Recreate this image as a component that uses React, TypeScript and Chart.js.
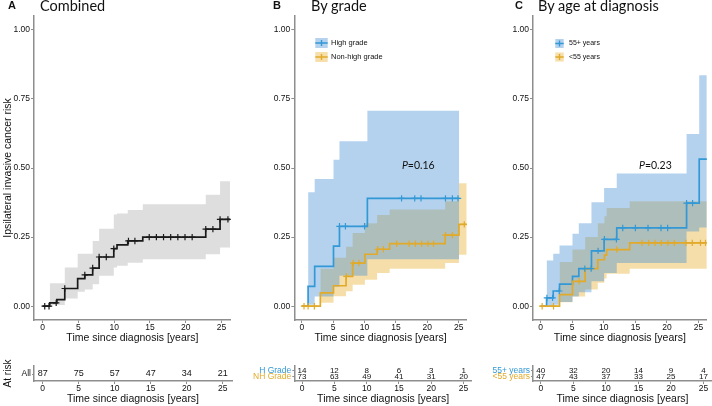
import React, { useEffect, useRef } from 'react';
import { Chart, registerables } from 'chart.js';
Chart.register(...registerables);

// ---------- shared axis values ----------
const X_MIN = -1.2;
const X_MAX = 26.3;
const xTickValues = [0, 5, 10, 15, 20, 25];
const yTickValues = [0, 0.25, 0.5, 0.75, 1];
const riskTimes = [0, 5, 10, 15, 20, 25];

// ---------- Panel A: combined ----------
const allTimes = [0, 1.0, 2.0, 3.1, 4.9, 5.9, 7.0, 7.9, 9.95, 10.4, 11.9, 14.0, 22.8, 24.8];
const allRisk = [0, 0.012, 0.024, 0.064, 0.1, 0.113, 0.138, 0.178, 0.208, 0.222, 0.236, 0.25, 0.279, 0.314];
const allEnd = 26.2;
const allCensor = [0.3, 0.9, 1.9, 3.1, 5.9, 7.0, 7.9, 8.9, 9.95, 12.0, 12.9, 14.9, 15.9, 16.9, 17.9, 18.9, 19.9, 20.9, 22.8, 23.8, 24.8, 25.9];
const allBandTimes = [1.0, 3.1, 4.9, 5.9, 7.0, 7.9, 9.95, 10.4, 11.9, 14.0, 22.8, 24.8];
const allUpper = [0.083, 0.14, 0.19, 0.19, 0.236, 0.28, 0.332, 0.335, 0.348, 0.369, 0.403, 0.452];
const allLower = [0.004, 0.028, 0.052, 0.06, 0.079, 0.11, 0.14, 0.146, 0.157, 0.17, 0.188, 0.212];
const allAtRisk = [87, 75, 57, 47, 34, 21];

// ---------- Panel B: by grade ----------
const hgTimes = [0, 1.0, 2.05, 5.05, 6.0, 10.45];
const hgRisk = [0, 0.072, 0.144, 0.217, 0.289, 0.39];
const hgEnd = 25.1;
const hgCensor = [6.0, 6.95, 10.0, 15.9, 18.0, 19.0, 22.9, 24.0, 24.9];
const hgBandTimes = [1.0, 2.05, 5.05, 6.0, 10.45];
const hgUpper = [0.412, 0.46, 0.53, 0.597, 0.707];
const hgLower = [0.005, 0.035, 0.07, 0.11, 0.17];
const hgAtRisk = [14, 12, 8, 6, 3, 1];

const nhTimes = [0, 2.95, 5.05, 7.05, 8.1, 10.05, 12.0, 14.0, 22.85, 25.05];
const nhRisk = [0, 0.048, 0.074, 0.108, 0.156, 0.188, 0.206, 0.226, 0.257, 0.296];
const nhEnd = 26.3;
const nhCensor = [0.35, 1.0, 2.0, 7.1, 8.2, 9.1, 12.1, 13.0, 15.1, 17.1, 18.1, 19.1, 20.1, 21.0, 22.9, 24.0, 25.9];
const nhBandTimes = [2.95, 5.05, 7.05, 8.1, 10.05, 12.0, 14.0, 22.85, 25.05];
const nhUpper = [0.135, 0.175, 0.215, 0.265, 0.3, 0.33, 0.35, 0.38, 0.445];
const nhLower = [0.012, 0.036, 0.054, 0.078, 0.096, 0.12, 0.135, 0.156, 0.186];
const nhAtRisk = [73, 63, 49, 41, 31, 20];

// ---------- Panel C: by age ----------
const oldTimes = [0, 0.95, 2.0, 3.0, 5.05, 6.05, 8.05, 10.05, 12.05, 23.1, 25.1];
const oldRisk = [0, 0.03, 0.055, 0.08, 0.108, 0.136, 0.2, 0.242, 0.283, 0.373, 0.532];
const oldEnd = 26.4;
const oldCensor = [1.0, 1.9, 2.95, 7.0, 8.0, 9.1, 10.1, 12.0, 13.0, 15.0, 17.0, 19.05, 20.1, 23.1, 24.05];
const oldBandTimes = [0.95, 2.0, 3.0, 5.05, 6.05, 8.05, 10.05, 12.05, 23.1, 25.1];
const oldUpper = [0.165, 0.19, 0.22, 0.262, 0.3, 0.376, 0.428, 0.48, 0.623, 0.836];
const oldLower = [0.0, 0.005, 0.015, 0.035, 0.05, 0.09, 0.12, 0.156, 0.27, 0.285];
const oldAtRisk = [40, 32, 20, 14, 9, 4];

const youngTimes = [0, 3.0, 5.05, 7.05, 9.05, 10.1, 10.45, 14.1];
const youngRisk = [0, 0.042, 0.09, 0.136, 0.168, 0.185, 0.205, 0.229];
const youngEnd = 26.4;
const youngCensor = [0.25, 2.05, 6.1, 12.05, 16.05, 17.1, 18.1, 19.1, 20.15, 21.15, 23.0, 24.0, 25.3, 26.1];
const youngBandTimes = [3.0, 5.05, 7.05, 9.05, 10.1, 10.45, 14.1];
const youngUpper = [0.16, 0.205, 0.25, 0.3, 0.325, 0.355, 0.38];
const youngLower = [0.014, 0.035, 0.06, 0.085, 0.1, 0.117, 0.135];
const youngAtRisk = [47, 43, 37, 33, 25, 17];

// ---------- styles ----------
const SANS = '"Liberation Sans", Arial, Helvetica, sans-serif';
const TITLE_FONT = 'Lato, "Open Sans", sans-serif';
const AXIS_GRAY = '#8e8e8e';
const TEXT = '#111111';
const BLACK = '#1a1a1a';
const GRAY_BAND = '#dedede';
const BLUE = '#3298d6';
const BLUE_BAND = 'rgba(67,142,212,0.4)';
const BLUE_SOLID = '#b4d2ee';
const YELLOW = '#e2aa2a';
const YELLOW_BAND = 'rgba(232,172,42,0.4)';
const YELLOW_SOLID = '#f6dfaa';

type Pt = { x: number; y: number };
type Series = {
  color: string; band: string;
  times: number[]; values: number[]; end: number; censor: number[];
  bandTimes: number[]; upper: number[]; lower: number[];
};

function stepPoints(times: number[], values: number[], end: number): Pt[] {
  const pts = times.map((t, i) => ({ x: t, y: values[i] }));
  pts.push({ x: end, y: values[values.length - 1] });
  return pts;
}
function valueAt(times: number[], values: number[], t: number) {
  let v = values[0];
  for (let i = 0; i < times.length; i++) if (times[i] <= t + 1e-9) v = values[i];
  return v;
}

const seriesA: Series[] = [
  { color: BLACK, band: GRAY_BAND, times: allTimes, values: allRisk, end: allEnd, censor: allCensor,
    bandTimes: allBandTimes, upper: allUpper, lower: allLower },
];
const seriesB: Series[] = [
  { color: BLUE, band: BLUE_BAND, times: hgTimes, values: hgRisk, end: hgEnd, censor: hgCensor,
    bandTimes: hgBandTimes, upper: hgUpper, lower: hgLower },
  { color: YELLOW, band: YELLOW_BAND, times: nhTimes, values: nhRisk, end: nhEnd, censor: nhCensor,
    bandTimes: nhBandTimes, upper: nhUpper, lower: nhLower },
];
const seriesC: Series[] = [
  { color: BLUE, band: BLUE_BAND, times: oldTimes, values: oldRisk, end: oldEnd, censor: oldCensor,
    bandTimes: oldBandTimes, upper: oldUpper, lower: oldLower },
  { color: YELLOW, band: YELLOW_BAND, times: youngTimes, values: youngRisk, end: youngEnd, censor: youngCensor,
    bandTimes: youngBandTimes, upper: youngUpper, lower: youngLower },
];

type LegendSpec = { labels: string[]; colors: string[]; fills: string[]; dx: number; dy: number; gap: number; w: number; h: number; tx: number; font: number };
type PSpec = { text: string; x: number; y: number };

type MainSpec = {
  series: Series[]; axisWidth: number; padRight: number; yTitle?: string;
  legend?: LegendSpec; pval?: PSpec;
};

function xScale(height: number) {
  return {
    type: 'linear', min: X_MIN, max: X_MAX,
    afterBuildTicks: (s: any) => { s.ticks = xTickValues.map((v) => ({ value: v })); },
    afterFit: (s: any) => { s.height = height; },
    grid: { drawOnChartArea: false, drawTicks: true, tickLength: 3, color: AXIS_GRAY, lineWidth: 1 },
    border: { display: true, color: AXIS_GRAY, width: 1.5 },
    ticks: { font: { family: SANS, size: 8.5 }, color: TEXT, padding: 0, maxRotation: 0, autoSkip: false, callback: (v: any) => String(v) },
    title: { display: true, text: 'Time since diagnosis [years]', color: TEXT, font: { family: SANS, size: 10.5, lineHeight: 1 }, padding: { top: 0, bottom: 0 } },
  };
}

const legendPlugin = (lg: LegendSpec) => ({
  id: 'kmLegend',
  afterDraw(chart: any) {
    const { ctx, chartArea } = chart;
    lg.labels.forEach((label, i) => {
      const x = chartArea.left + lg.dx;
      const y = chartArea.top + lg.dy + i * lg.gap;
      ctx.save();
      ctx.fillStyle = lg.fills[i];
      ctx.fillRect(x, y - lg.h / 2, lg.w, lg.h);
      ctx.strokeStyle = lg.colors[i];
      ctx.lineWidth = 1.4;
      ctx.beginPath();
      ctx.moveTo(x, y); ctx.lineTo(x + lg.w, y);
      ctx.moveTo(x + lg.w / 2, y - 3); ctx.lineTo(x + lg.w / 2, y + 3);
      ctx.stroke();
      ctx.fillStyle = TEXT;
      ctx.font = `${lg.font}px ${SANS}`;
      ctx.textBaseline = 'middle';
      ctx.textAlign = 'left';
      ctx.fillText(label, x + lg.w + lg.tx, y);
      ctx.restore();
    });
  },
});

const pvalPlugin = (p: PSpec) => ({
  id: 'pval',
  afterDraw(chart: any) {
    const { ctx, scales } = chart;
    const cx = scales.x.getPixelForValue(p.x);
    const cy = scales.y.getPixelForValue(p.y);
    ctx.save();
    ctx.fillStyle = TEXT;
    ctx.textBaseline = 'middle';
    ctx.textAlign = 'left';
    const fi = `italic 10.5px ${TITLE_FONT}`;
    const fn = `10.5px ${TITLE_FONT}`;
    ctx.font = fi; const w1 = ctx.measureText('P').width;
    ctx.font = fn; const w2 = ctx.measureText(p.text).width;
    const sx = cx - (w1 + w2) / 2;
    ctx.font = fi; ctx.fillText('P', sx, cy);
    ctx.font = fn; ctx.fillText(p.text, sx + w1, cy);
    ctx.restore();
  },
});

function mainConfig(spec: MainSpec): any {
  const datasets: any[] = [];
  // censor marks (topmost)
  [...spec.series].reverse().forEach((s) => {
    datasets.push({
      data: s.censor.map((t) => ({ x: t, y: valueAt(s.times, s.values, t) })),
      showLine: false, pointStyle: 'cross', pointRadius: 3.2, pointBorderWidth: 1.2,
      pointBorderColor: s.color, borderColor: s.color, backgroundColor: s.color,
    });
  });
  // step lines
  [...spec.series].reverse().forEach((s) => {
    datasets.push({
      data: stepPoints(s.times, s.values, s.end), stepped: true, borderColor: s.color,
      borderWidth: 1.7, pointRadius: 0, fill: false,
    });
  });
  // confidence bands
  spec.series.forEach((s) => {
    const bandEnd = s.end;
    datasets.push({ data: stepPoints(s.bandTimes, s.upper, bandEnd), stepped: true, borderColor: 'rgba(0,0,0,0)', borderWidth: 0, pointRadius: 0, fill: false });
    datasets.push({ data: stepPoints(s.bandTimes, s.lower, bandEnd), stepped: true, borderColor: 'rgba(0,0,0,0)', borderWidth: 0, pointRadius: 0, fill: '-1', backgroundColor: s.band });
  });
  const plugins: any[] = [];
  if (spec.legend) plugins.push(legendPlugin(spec.legend));
  if (spec.pval) plugins.push(pvalPlugin(spec.pval));
  return {
    type: 'line',
    data: { datasets },
    plugins,
    options: {
      animation: false, responsive: false, devicePixelRatio: 1, events: [],
      layout: { padding: { top: 16, right: spec.padRight, bottom: 1.75, left: 0 } },
      plugins: { legend: { display: false }, tooltip: { enabled: false }, title: { display: false } },
      scales: {
        x: xScale(23.25),
        y: {
          type: 'linear', min: -0.05, max: 1.05,
          afterBuildTicks: (s: any) => { s.ticks = yTickValues.map((v) => ({ value: v })); },
          afterFit: (s: any) => { s.width = spec.axisWidth; },
          grid: { drawOnChartArea: false, drawTicks: true, tickLength: 3, color: AXIS_GRAY, lineWidth: 1 },
          border: { display: true, color: AXIS_GRAY, width: 1.5 },
          ticks: { font: { family: SANS, size: 8.5 }, color: TEXT, padding: 1, callback: (v: any) => Number(v).toFixed(2) },
          title: spec.yTitle
            ? { display: true, text: spec.yTitle, color: TEXT, font: { family: SANS, size: 10.5, lineHeight: 1.2 }, padding: { top: 2, bottom: 0 } }
            : { display: false },
        },
      },
    },
  };
}

type RiskRow = { label: string; color: string; counts: number[]; level: number };
type RiskSpec = { rows: RiskRow[]; min: number; max: number; axisWidth: number; padRight: number; yTitle?: string; font: number };

const countsPlugin = (fontSize: number) => ({
  id: 'riskCounts',
  afterDatasetsDraw(chart: any) {
    const { ctx } = chart;
    ctx.save();
    ctx.fillStyle = TEXT;
    ctx.font = `${fontSize}px ${SANS}`;
    ctx.textAlign = 'center';
    ctx.textBaseline = 'middle';
    chart.data.datasets.forEach((ds: any, di: number) => {
      const meta = chart.getDatasetMeta(di);
      meta.data.forEach((pt: any, i: number) => {
        ctx.fillText(String(ds.counts[i]), pt.x, pt.y);
      });
    });
    ctx.restore();
  },
});

function riskConfig(spec: RiskSpec): any {
  const labelByLevel: Record<string, string> = {};
  const colorByLevel: Record<string, string> = {};
  spec.rows.forEach((r) => { labelByLevel[String(r.level)] = r.label; colorByLevel[String(r.level)] = r.color; });
  const datasets = spec.rows.map((r) => ({
    data: riskTimes.map((t) => ({ x: t, y: r.level })),
    counts: r.counts, showLine: false, pointRadius: 0, borderColor: 'rgba(0,0,0,0)',
  }));
  return {
    type: 'line',
    data: { datasets },
    plugins: [countsPlugin(spec.font)],
    options: {
      animation: false, responsive: false, devicePixelRatio: 1, events: [],
      layout: { padding: { top: 16, right: spec.padRight, bottom: 1.75, left: 0 } },
      plugins: { legend: { display: false }, tooltip: { enabled: false } },
      scales: {
        x: xScale(23.25),
        y: {
          type: 'linear', min: spec.min, max: spec.max,
          afterBuildTicks: (s: any) => { s.ticks = spec.rows.map((r) => ({ value: r.level })); },
          afterFit: (s: any) => { s.width = spec.axisWidth; },
          grid: { drawOnChartArea: false, drawTicks: true, tickLength: 2, color: AXIS_GRAY, lineWidth: 1 },
          border: { display: true, color: AXIS_GRAY, width: 1.5 },
          ticks: {
            font: { family: SANS, size: 8.5 }, padding: 1,
            color: (c: any) => colorByLevel[String(c.tick ? c.tick.value : '')] || TEXT,
            callback: (v: any) => labelByLevel[String(v)] || '',
          },
          title: spec.yTitle
            ? { display: true, text: spec.yTitle, color: TEXT, font: { family: SANS, size: 10, lineHeight: 1.2 }, padding: { top: 2, bottom: 0 } }
            : { display: false },
        },
      },
    },
  };
}

function ChartBox({ left, top, width, height, make }: { left: number; top: number; width: number; height: number; make: () => any }) {
  const ref = useRef<HTMLCanvasElement | null>(null);
  useEffect(() => {
    const chart = new Chart(ref.current as HTMLCanvasElement, make());
    return () => chart.destroy();
  }, []);
  return (
    <div style={{ position: 'absolute', left, top, width, height }}>
      <canvas ref={ref} width={width} height={height} style={{ display: 'block', width, height }} />
    </div>
  );
}

function PanelTitle({ letter, title, lx, tx }: { letter: string; title: string; lx: number; tx: number }) {
  return (
    <>
      <div style={{ position: 'absolute', left: lx, top: 0, fontFamily: SANS, fontWeight: 'bold', fontSize: 11, lineHeight: '11px', color: TEXT, whiteSpace: 'nowrap' }}>{letter}</div>
      <div style={{ position: 'absolute', left: tx, top: -1, fontFamily: TITLE_FONT, fontSize: 14.5, lineHeight: '14.5px', color: TEXT, whiteSpace: 'nowrap' }}>{title}</div>
    </>
  );
}

export default function App() {
  const mainH = 345;
  return (
    <div style={{ position: 'fixed', left: 0, top: 0, width: 712, height: 406, background: '#ffffff', overflow: 'hidden' }}>
      <ChartBox left={0} top={0} width={236} height={mainH}
        make={() => mainConfig({ series: seriesA, axisWidth: 34, padRight: 4, yTitle: 'Ipsilateral invasive cancer risk' })} />
      <ChartBox left={236} top={0} width={236} height={mainH}
        make={() => mainConfig({
          series: seriesB, axisWidth: 58.3, padRight: 0,
          legend: { labels: ['High grade', 'Non-high grade'], colors: [BLUE, YELLOW], fills: [BLUE_SOLID, YELLOW_SOLID], dx: 21, dy: 27, gap: 14, w: 12.4, h: 10, tx: 3.3, font: 7.5 },
          pval: { text: '=0.16', x: 18.57, y: 0.508 },
        })} />
      <ChartBox left={472} top={0} width={240} height={mainH}
        make={() => mainConfig({
          series: seriesC, axisWidth: 61, padRight: 0,
          legend: { labels: ['55+ years', '<55 years'], colors: [BLUE, YELLOW], fills: [BLUE_SOLID, YELLOW_SOLID], dx: 22.3, dy: 27.5, gap: 13.5, w: 8.4, h: 9, tx: 5.3, font: 7 },
          pval: { text: '=0.23', x: 18.16, y: 0.508 },
        })} />

      <ChartBox left={0} top={350} width={236} height={56}
        make={() => riskConfig({ rows: [{ label: 'All', color: TEXT, counts: allAtRisk, level: 0 }], min: -7 / 6, max: 15 / 6 - 7 / 6, axisWidth: 34, padRight: 4, yTitle: 'At risk', font: 9 })} />
      <ChartBox left={236} top={350} width={236} height={56}
        make={() => riskConfig({ rows: [
          { label: 'H Grade', color: BLUE, counts: hgAtRisk, level: 1 },
          { label: 'NH Grade', color: YELLOW, counts: nhAtRisk, level: 0 },
        ], min: -0.635, max: 1.746, axisWidth: 58.3, padRight: 0, font: 8 })} />
      <ChartBox left={472} top={350} width={240} height={56}
        make={() => riskConfig({ rows: [
          { label: '55+ years', color: BLUE, counts: oldAtRisk, level: 1 },
          { label: '<55 years', color: YELLOW, counts: youngAtRisk, level: 0 },
        ], min: -0.635, max: 1.746, axisWidth: 61, padRight: 0, font: 8 })} />

      <PanelTitle letter="A" title="Combined" lx={8} tx={40} />
      <PanelTitle letter="B" title="By grade" lx={273} tx={311} />
      <PanelTitle letter="C" title="By age at diagnosis" lx={515} tx={538} />
    </div>
  );
}
